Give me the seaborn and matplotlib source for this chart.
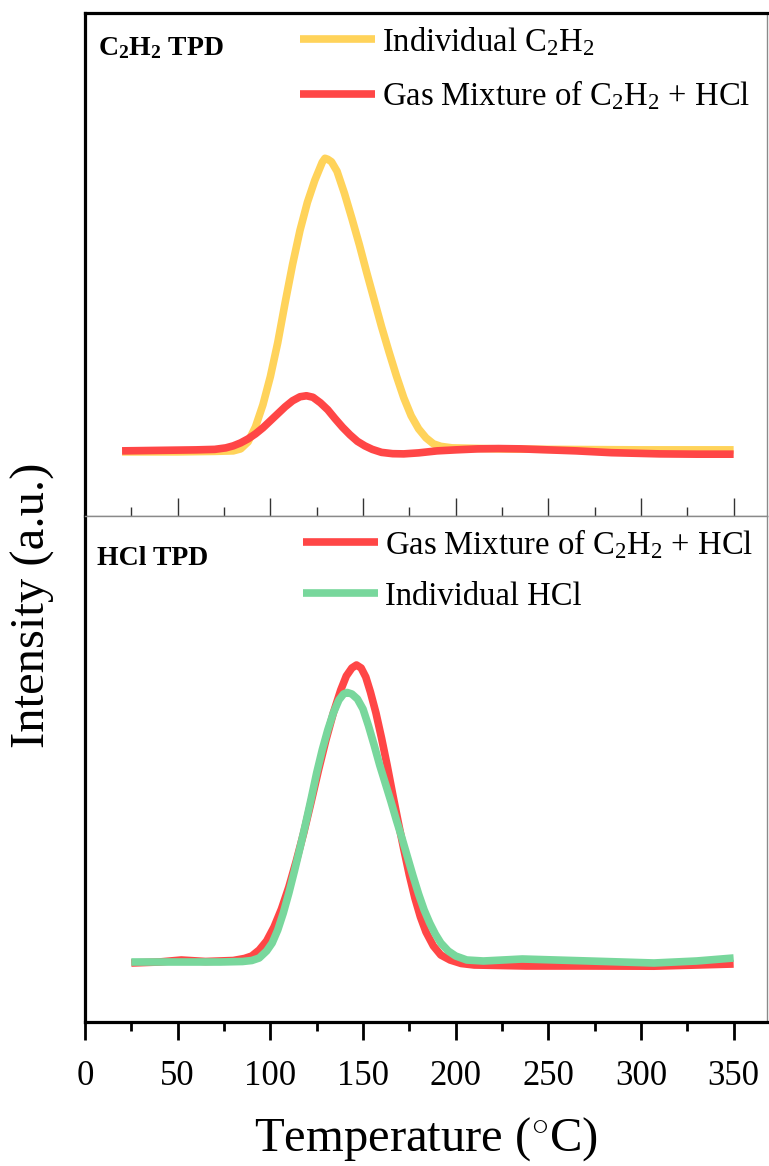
import matplotlib
matplotlib.use("Agg")
import matplotlib.pyplot as plt
import seaborn as sns
import numpy as np

# ---- data (intensity in arbitrary units, baseline ~ 0) ----
# C2H2 TPD panel
c2h2_ind_T = [20, 50, 70, 80, 84, 88, 92, 96, 100, 104, 108, 112, 116, 120, 124, 126, 128,
              129.5, 131, 133, 136, 140, 144, 148, 152, 156, 160, 164, 168, 172, 176, 180,
              184, 188, 192, 198, 210, 223, 250, 300, 350]
c2h2_ind_I = [-1, -1, -0.5, 0, 2, 9, 24, 46, 74, 108, 148, 186, 220, 248, 270, 279, 288,
              292, 291, 288.5, 279, 257, 232, 206, 178, 151, 124, 99, 75, 53, 35, 22,
              13, 7, 4.5, 3, 2.5, 2, 1.5, 1, 1]

c2h2_mix_T = [20, 40, 60, 70, 76, 80, 84, 88, 92, 96, 100, 104, 108, 112, 116, 119.5, 123,
              127, 131, 135, 139, 143, 147, 151, 155, 160, 166, 172, 180, 190, 200, 212,
              223, 235, 250, 265, 284, 310, 330, 350]
c2h2_mix_I = [0, 0.5, 1, 1.5, 3, 5, 8, 12, 17, 23, 30, 37, 44, 50, 54, 55, 53.5,
              48, 41, 32, 23.5, 16, 9.5, 5, 1.5, -1.5, -2.8, -3, -2, 0, 1, 2,
              2.3, 2, 1, 0, -1.8, -3, -3.3, -3.3]

# HCl TPD panel
hcl_mix_T = [25, 40, 52, 65, 80, 86, 90, 94, 98, 102, 106, 110, 114, 118, 122, 126, 130,
             134, 138, 141, 144, 146.5, 149, 151.5, 154, 157, 160, 163, 166, 169, 172,
             175, 178, 181, 184, 188, 192, 197, 203, 210, 224, 238, 270, 307, 350]
hcl_mix_I = [-1, 0, 2, 0.5, 1.5, 3.5, 6, 12, 21, 35, 53, 75, 101, 129, 160, 192, 222,
             249, 272, 286, 294, 297, 294, 285, 270, 249, 224, 197, 168, 140, 113,
             87, 64, 45, 30, 16, 7, 2, -1.5, -3, -3.5, -4, -4, -4.2, -2]

hcl_ind_T = [25, 50, 73, 85, 90, 94, 98, 101, 104, 107, 110, 113, 116, 119, 122, 125, 128,
             131, 134, 137, 139.5, 141.5, 144, 147, 150, 153, 156, 159, 162, 165, 168,
             171, 174, 177, 180, 183, 186, 189, 192, 196, 200, 206, 215, 236, 272, 307,
             330, 350]
hcl_ind_I = [0, 0, 0, 0.5, 1.5, 4, 11, 19, 32, 49, 69, 91, 114, 138, 163, 189, 212,
             232, 249, 262, 268, 269.5, 268, 263, 253, 236, 217, 197, 179, 161, 142,
             124, 105, 86, 68, 52, 39, 28, 19, 11, 6, 2, 1, 3, 1, -1,
             1, 4]

x_ticks = [0, 50, 100, 150, 200, 250, 300, 350]

YELLOW = "#FFD35A"
RED = "#FF4646"
GREEN = "#78D79C"

sns.set_style("white", {"text.color": "black", "axes.labelcolor": "black",
                        "xtick.color": "black", "ytick.color": "black"})
plt.rcParams["font.family"] = ["Liberation Serif", "DejaVu Serif"]
plt.rcParams["text.color"] = "black"
plt.rcParams["mathtext.fontset"] = "custom"
plt.rcParams["mathtext.rm"] = "Liberation Serif"
plt.rcParams["mathtext.it"] = "Liberation Serif:italic"
plt.rcParams["mathtext.bf"] = "Liberation Serif:bold"

W, H = 769, 1166
fig = plt.figure(figsize=(W / 100, H / 100), dpi=100)

left, right = 85 / W, 767 / W
y_top, y_mid, y_bot = 1 - 13 / H, 1 - 516 / H, 1 - 1022 / H

ax_top = fig.add_axes([left, y_mid, right - left, y_top - y_mid])
ax_bot = fig.add_axes([left, y_bot, right - left, y_mid - y_bot])

LW = 5.5
sns.lineplot(x=c2h2_ind_T, y=c2h2_ind_I, ax=ax_top, color=YELLOW, lw=LW,
             label=r"Individual C$_2$H$_2$", sort=False, estimator=None)
sns.lineplot(x=c2h2_mix_T, y=c2h2_mix_I, ax=ax_top, color=RED, lw=LW,
             label=r"Gas Mixture of C$_2$H$_2$ + HCl", sort=False, estimator=None)
sns.lineplot(x=hcl_mix_T, y=hcl_mix_I, ax=ax_bot, color=RED, lw=LW,
             label=r"Gas Mixture of C$_2$H$_2$ + HCl", sort=False, estimator=None)
sns.lineplot(x=hcl_ind_T, y=hcl_ind_I, ax=ax_bot, color=GREEN, lw=LW,
             label="Individual HCl", sort=False, estimator=None)

for ax in (ax_top, ax_bot):
    ax.set_xlim(0, 368)
    ax.set_xticks(x_ticks)
    ax.set_xticks(np.arange(25, 368, 50), minor=True)
    ax.set_yticks([])
    ax.set_xlabel("")
    ax.set_ylabel("")
    ax.set_facecolor("white")
    for s in ax.spines.values():
        s.set_visible(True)
    for ln in ax.get_lines():
        ln.set_solid_joinstyle("round")
        ln.set_solid_capstyle("butt")

ax_top.set_ylim(-65, 437)
ax_bot.set_ylim(-60, 446)

# spines
THICK = 2.3
for sp in ("left", "top"):
    ax_top.spines[sp].set_color("black")
    ax_top.spines[sp].set_linewidth(THICK)
for sp in ("bottom", "right"):
    ax_top.spines[sp].set_color("#8a8a8a")
    ax_top.spines[sp].set_linewidth(1.0)
for sp in ("left", "bottom"):
    ax_bot.spines[sp].set_color("black")
    ax_bot.spines[sp].set_linewidth(THICK)
for sp in ("top", "right"):
    ax_bot.spines[sp].set_color("#8a8a8a")
    ax_bot.spines[sp].set_linewidth(1.0)

# ticks
ax_top.tick_params(axis="x", which="both", direction="in", bottom=True, top=False,
                   labelbottom=False, color="#333333", width=1.0)
ax_top.tick_params(axis="x", which="major", length=13)
ax_top.tick_params(axis="x", which="minor", length=6.5)

ax_bot.tick_params(axis="x", which="both", direction="out", bottom=True, top=False,
                   color="black", labelcolor="black", width=2.0, labelsize=25, pad=14.5)
ax_bot.tick_params(axis="x", which="major", length=13)
ax_bot.tick_params(axis="x", which="minor", length=6.5)

ax_bot.set_xlabel(r"Temperature ($^{\circ}$C)", fontsize=35, labelpad=16, color="black")
fig.text(33 / W, 1 - 605 / H, "Intensity (a.u.)", rotation=90, fontsize=35,
         ha="center", va="center", color="black")

# panel titles
fig.text(98 / W, 1 - 55 / H, r"C$_\mathbf{2}$H$_\mathbf{2}$ TPD", fontsize=20,
         fontweight="bold", ha="left", va="baseline", color="black")
fig.text(97 / W, 1 - 565 / H, "HCl TPD", fontsize=20, fontweight="bold",
         ha="left", va="baseline", color="black")

# legends
leg_kw = dict(frameon=False, fontsize=23.5, handlelength=2.3, handletextpad=0.22,
              borderpad=0, borderaxespad=0, labelspacing=0.63,
              bbox_transform=fig.transFigure, loc="upper left")
ax_top.legend(bbox_to_anchor=(300 / W, 1 - 25 / H), **leg_kw)
ax_bot.legend(bbox_to_anchor=(303 / W, 1 - 527 / H), **leg_kw)
for leg in (ax_top.get_legend(), ax_bot.get_legend()):
    for ln in leg.get_lines():
        ln.set_linewidth(LW)
    for t in leg.get_texts():
        t.set_color("black")

fig.savefig("out.png", dpi=100, facecolor="white")
